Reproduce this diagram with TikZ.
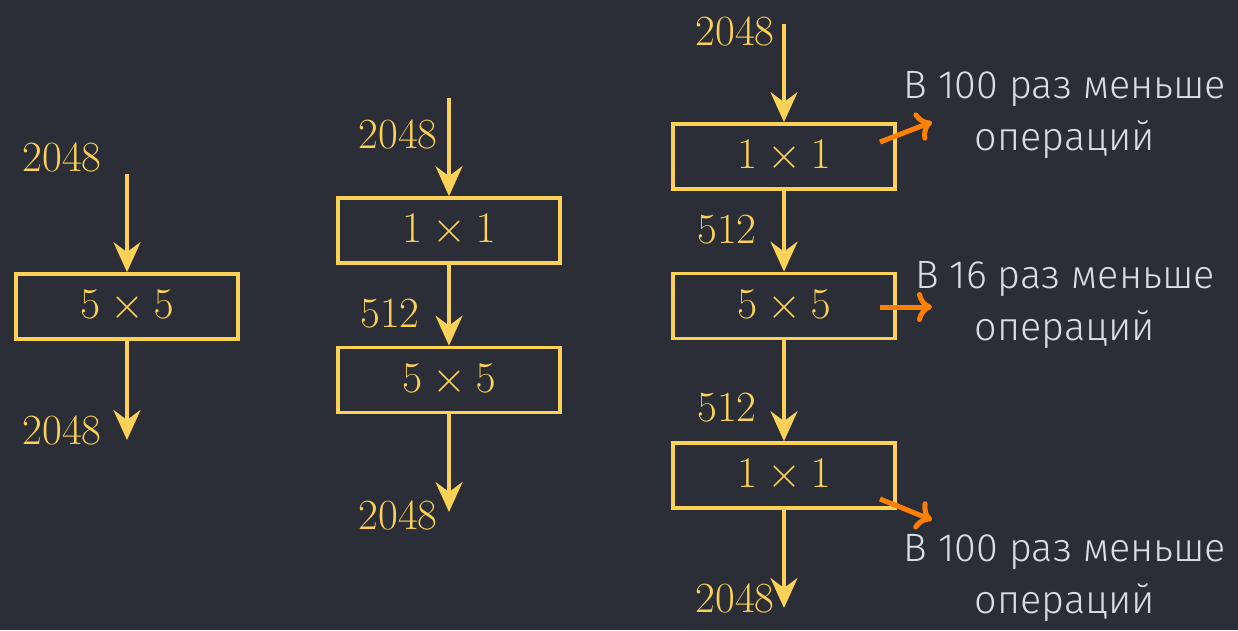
\documentclass[tikz,border=0pt]{standalone}
\usepackage{fontspec}
\newfontfamily\notefont{Fira Sans Light}
\usetikzlibrary{arrows.meta}
\definecolor{bgdark}{HTML}{2B2E36}
\definecolor{convyellow}{HTML}{FBD157}
\definecolor{gainorange}{HTML}{FF8000}
\definecolor{notegray}{HTML}{D9DDE4}
\tikzset{
	conv/.style={draw=convyellow, line width=0.075cm, minimum width=4.45cm, minimum height=1.3cm, text=convyellow, font=\fontsize{25}{28}\selectfont},
	chan/.style={text=convyellow, font=\fontsize{24.5}{28}\selectfont, inner sep=0pt},
	flow/.style={convyellow, line width=0.075cm, -{Stealth[length=0.6cm, width=0.54cm, inset=0.2cm]}},
	gain/.style={gainorange, line width=0.1cm, -{To[length=0.3cm, width=0.6cm]}},
	note/.style={text=notegray, align=center, font=\notefont\fontsize{22.5}{29.5}\selectfont}
}
\begin{document}
\begin{tikzpicture}[x=0.02cm, y=-0.02cm]
	\fill[bgdark] (0,0) rectangle (1238,630);
	\useasboundingbox (0,0) rectangle (1238,630);

	% single 5x5
	\node[conv] (L) at (127,306.5) {$5\times5$};
	\coordinate (Lin) at (127,174);
	\coordinate (Lout) at (127,440);
	\draw[flow] (Lin) -- (L);
	\draw[flow] (L) -- (Lout);
	\node[chan] (Lc1) at (62,157) {2048};
	\node[chan] (Lc2) at (62,430) {2048};

	% 1x1 then 5x5
	\node[conv] (M1) at (449,230.5) {$1\times1$};
	\node[conv] (M2) at (449,380) {$5\times5$};
	\coordinate (Min) at (449,98);
	\coordinate (Mout) at (449,512);
	\draw[flow] (Min) -- (M1);
	\draw[flow] (M1) -- (M2);
	\draw[flow] (M2) -- (Mout);
	\node[chan] (Mc1) at (398,134) {2048};
	\node[chan] (Mc2) at (390,314) {512};
	\node[chan] (Mc3) at (398,515) {2048};

	% bottleneck
	\node[conv] (R1) at (784,156.5) {$1\times1$};
	\node[conv] (R2) at (784,306) {$5\times5$};
	\node[conv] (R3) at (784,475.5) {$1\times1$};
	\coordinate (Rin) at (784,24);
	\coordinate (Rout) at (784,608);
	\draw[flow] (Rin) -- (R1);
	\draw[flow] (R1) -- (R2);
	\draw[flow] (R2) -- (R3);
	\draw[flow] (R3) -- (Rout);
	\node[chan] (Rc1) at (735,31) {2048};
	\node[chan] (Rc2) at (727,230) {512};
	\node[chan] (Rc3) at (727,408) {512};
	\node[chan] (Rc4) at (735,598) {2048};

	% savings
	\coordinate (g1a) at (880,142);
	\coordinate (g1b) at (932,122);
	\coordinate (g2a) at (880,307);
	\coordinate (g2b) at (932,307);
	\coordinate (g3a) at (880,499);
	\coordinate (g3b) at (932,520);
	\draw[gain] (g1a) -- (g1b);
	\draw[gain] (g2a) -- (g2b);
	\draw[gain] (g3a) -- (g3b);
	\node[note] (N1) at (1065,115) {В 100 раз меньше\\операций};
	\node[note] (N2) at (1065,305) {В 16 раз меньше\\операций};
	\node[note] (N3) at (1065,578) {В 100 раз меньше\\операций};
\end{tikzpicture}
\end{document}
